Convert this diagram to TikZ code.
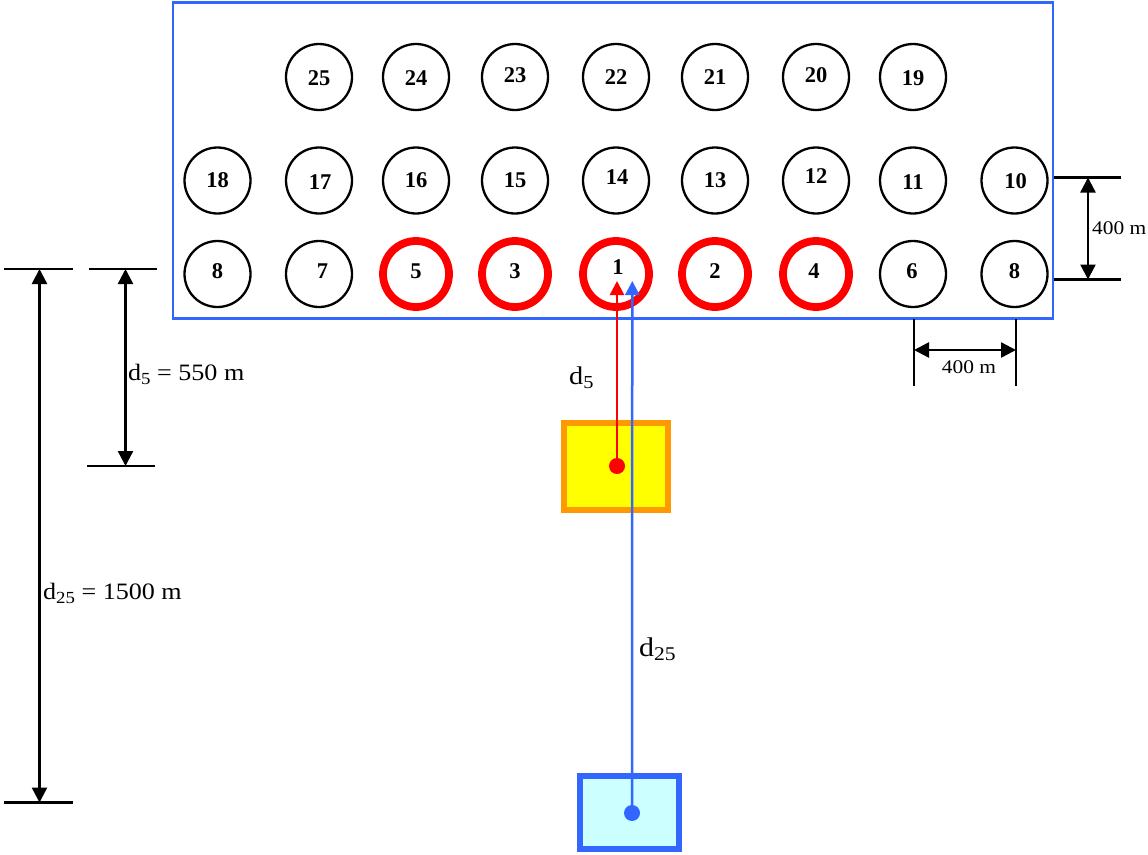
\documentclass[tikz,border=0pt]{standalone}
\usepackage{fontspec}
\setmainfont{Liberation Serif}
\newfontfamily\wf[FakeStretch=1.11]{Liberation Serif}
\usetikzlibrary{arrows.meta}
\definecolor{frameblue}{RGB}{51,102,255}
\definecolor{boxorange}{RGB}{255,153,0}
\definecolor{boxyellow}{RGB}{255,255,0}
\definecolor{boxcyan}{RGB}{204,255,255}
\definecolor{wellred}{RGB}{255,0,0}
\newcommand\subsc[1]{\raisebox{-0.18em}{\scalebox{0.72}{#1}}}
% \well[style]{name}{x}{y}{text}{xshift}{yshift}
\newcommand\well[7][wellc]{\node[#1, label={[lab,xshift=#6pt,yshift=#7pt]center:#5}] (w#2) at (#3,#4) {};}
\tikzset{
  wellc/.style={circle, draw=black, line width=2.3pt, minimum size=66pt, inner sep=0pt},
  wellr/.style={circle, draw=wellred, line width=7.8pt, minimum size=66pt, inner sep=0pt},
  lab/.style={font=\fontsize{22.5}{22.5}\selectfont\bfseries, inner sep=0pt},
  dimtxt/.style={font=\wf\fontsize{23.5}{23.5}\selectfont, inner sep=0pt},
  smalltxt/.style={font=\wf\fontsize{19.3}{19.3}\selectfont, inner sep=0pt},
  tick/.style={line width=2.3pt},
  dim/.style={line width=2.4pt, {Triangle[length=15pt,width=15pt]}-{Triangle[length=15pt,width=15pt]}},
  redarr/.style={draw=wellred, line width=2.5pt, -{Triangle[length=14pt,width=14pt]}},
  bluearr/.style={draw=frameblue, line width=2.5pt, -{Triangle[length=14pt,width=14pt]}},
}
\begin{document}
\begin{tikzpicture}[x=1pt,y=-1pt]
\useasboundingbox (0,0) rectangle (1148,854);
% field frame
\node[draw=frameblue, line width=2.4pt, minimum width=880pt, minimum height=316pt, inner sep=0pt] (frame) at (613,160.5) {};
% top row
\well{25}{319}{77}{25}{0}{-1}
\well{24}{416}{77}{24}{0}{-1}
\well{23}{515}{77}{23}{0}{2}
\well{22}{616}{77}{22}{0}{0}
\well{21}{715}{77}{21}{0}{0}
\well{20}{816}{77}{20}{0}{2}
\well{19}{913}{77}{19}{0}{-1}
% middle row
\well{18}{217.5}{180.5}{18}{0}{0}
\well{17}{319}{180.5}{17}{1}{-1.5}
\well{16}{416}{180.5}{16}{0}{0}
\well{15}{515}{180.5}{15}{0}{0}
\well{14}{616}{180.5}{14}{1}{3.5}
\well{13}{715}{180.5}{13}{0}{0}
\well{12}{816}{180.5}{12}{0}{4.5}
\well{11}{913}{180.5}{11}{0}{-1.5}
\well{10}{1014.5}{180.5}{10}{1}{-1}
% bottom row
\well{8a}{217.5}{274}{8}{0}{2.5}
\well{7}{319}{274}{7}{3.5}{2.5}
\well[wellr]{5}{416}{274}{5}{0}{2.5}
\well[wellr]{3}{515}{274}{3}{0}{2.5}
\well[wellr]{1}{616}{274}{1}{2}{7}
\well[wellr]{2}{715}{274}{2}{0}{2.5}
\well[wellr]{4}{816}{274}{4}{-2}{2.5}
\well{6}{913}{274}{6}{-1}{2.5}
\well{8b}{1014.5}{274}{8}{0}{2.5}
% sources
\node[draw=boxorange, fill=boxyellow, line width=5.7pt, minimum width=104pt, minimum height=87pt, inner sep=0pt] (ybox) at (616,466.5) {};
\node[draw=frameblue, fill=boxcyan, line width=6pt, minimum width=99pt, minimum height=73pt, inner sep=0pt] (bbox) at (629.5,812.5) {};
\node[circle, fill=wellred, minimum size=16pt, inner sep=0pt] (rdot) at (617,466) {};
\node[circle, fill=frameblue, minimum size=16pt, inner sep=0pt] (bdot) at (632,813) {};
\coordinate (rtip) at (617,281);
\coordinate (btip) at (632.3,281);
\draw[bluearr] (bdot.center) -- (btip);
\draw[redarr] (rdot.center) -- (rtip);
\node[font=\wf\fontsize{25.5}{25.5}\selectfont, inner sep=0pt, anchor=base west] (ld5) at (569,384) {d\subsc{5}};
\node[font=\wf\fontsize{27}{27}\selectfont, inner sep=0pt, anchor=base west] (ld25) at (639,656) {d\subsc{25}};
% left dimensions
\coordinate (t1a) at (4,269); \coordinate (t1b) at (73,269);
\coordinate (t2a) at (4,802.5); \coordinate (t2b) at (73,802.5);
\coordinate (t3a) at (89,269); \coordinate (t3b) at (157,269);
\coordinate (t4a) at (87,466); \coordinate (t4b) at (155,466);
\draw[tick] (t1a) -- (t1b);
\draw[tick] (t2a) -- (t2b);
\draw[tick] (t3a) -- (t3b);
\draw[tick] (t4a) -- (t4b);
\coordinate (d25a) at (39.5,269); \coordinate (d25b) at (39.5,802.5);
\coordinate (d5a) at (125.5,269); \coordinate (d5b) at (125.5,466);
\draw[dim] (d25a) -- (d25b);
\draw[dim] (d5a) -- (d5b);
\node[dimtxt, anchor=base west] (l550) at (128,380) {d\subsc{5} = 550 m};
\node[dimtxt, anchor=base west] (l1500) at (43,599.5) {d\subsc{25} = 1500 m};
% right dimensions
\coordinate (r1a) at (1054,177.5); \coordinate (r1b) at (1121,177.5);
\coordinate (r2a) at (1054,279.5); \coordinate (r2b) at (1121,279.5);
\draw[tick] (r1a) -- (r1b);
\draw[tick] (r2a) -- (r2b);
\coordinate (rva) at (1088,177.5); \coordinate (rvb) at (1088,279.5);
\draw[dim] (rva) -- (rvb);
\node[smalltxt, anchor=base west] (l400v) at (1092,234) {400 m};
\coordinate (b1a) at (914,319); \coordinate (b1b) at (914,386);
\coordinate (b2a) at (1016,319); \coordinate (b2b) at (1016,386);
\draw[tick] (b1a) -- (b1b);
\draw[tick] (b2a) -- (b2b);
\coordinate (bha) at (914,350); \coordinate (bhb) at (1016,350);
\draw[dim] (bha) -- (bhb);
\node[smalltxt, anchor=base] (l400h) at (969,373) {400 m};
\end{tikzpicture}
\end{document}
